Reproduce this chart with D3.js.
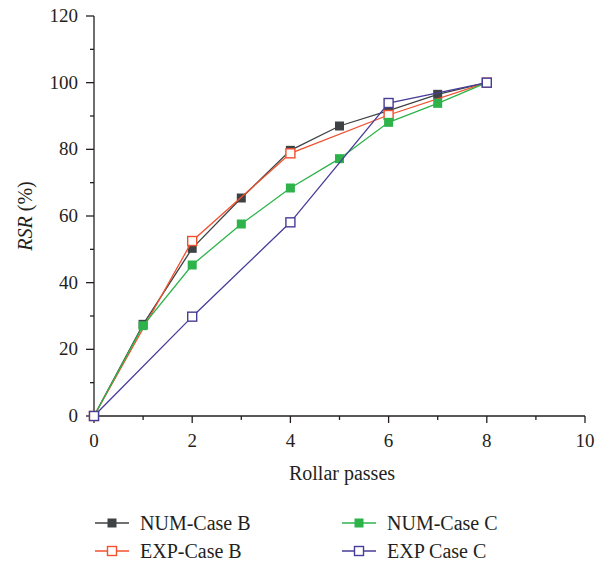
<!DOCTYPE html>
<html>
<head>
<meta charset="utf-8">
<script src="https://cdn.jsdelivr.net/npm/d3@7"></script>
<style>
  body { margin: 0; background: #fff; }
  #chart text { font-family: 'Liberation Serif', 'Times New Roman', Times, 'DejaVu Serif', serif; fill: #231f20; }
</style>
</head>
<body>
<svg id="chart" width="608" height="561" font-family="Liberation Serif, Times New Roman, serif"></svg>
<script>
const passesNum = [0, 1, 2, 3, 4, 5, 6, 7, 8];
const passesExp = [0, 2, 4, 6, 8];
const numCaseB = [0, 27.5, 50.3, 65.4, 79.7, 87, 91.6, 96.5, 100];
const expCaseB = [0, 52.5, 78.8, 90.3, 100];
const numCaseC = [0, 27.1, 45.3, 57.6, 68.4, 77.2, 88.1, 93.8, 100];
const expCaseC = [0, 29.8, 58.1, 93.9, 100];
const xTicks = [0, 2, 4, 6, 8, 10];
const yTicks = [0, 20, 40, 60, 80, 100, 120];

const series = [
  { name: "NUM-Case B", xs: passesNum, ys: numCaseB, color: "#3f4244", filled: true },
  { name: "EXP-Case B", xs: passesExp, ys: expCaseB, color: "#f0512e", filled: false },
  { name: "NUM-Case C", xs: passesNum, ys: numCaseC, color: "#2db34a", filled: true },
  { name: "EXP Case C", xs: passesExp, ys: expCaseC, color: "#463d97", filled: false }
];

const svg = d3.select("#chart");
const x = d3.scaleLinear().domain([0, 10]).range([94, 585]);
const y = d3.scaleLinear().domain([0, 120]).range([416, 16]);
const axisColor = "#231f20";

// minor ticks
const xMinor = d3.range(1, 10, 2);
const yMinor = d3.range(10, 120, 20);

const gx = svg.append("g").attr("transform", `translate(0,${y(0)})`);
gx.append("line").attr("x1", x(0)).attr("x2", x(10)).attr("stroke", axisColor).attr("stroke-width", 1.3);
gx.selectAll(".maj").data(xTicks).join("line")
  .attr("x1", d => x(d)).attr("x2", d => x(d)).attr("y1", 0).attr("y2", 7)
  .attr("stroke", axisColor).attr("stroke-width", 1.3);
gx.selectAll(".min").data(xMinor).join("line")
  .attr("x1", d => x(d)).attr("x2", d => x(d)).attr("y1", 0).attr("y2", 4)
  .attr("stroke", axisColor).attr("stroke-width", 1.3);
gx.selectAll("text").data(xTicks).join("text")
  .attr("x", d => x(d)).attr("y", 31)
  .attr("text-anchor", "middle").attr("font-size", 19)
  .text(d => d);

const gy = svg.append("g").attr("transform", `translate(${x(0)},0)`);
gy.append("line").attr("y1", y(0)).attr("y2", y(120)).attr("stroke", axisColor).attr("stroke-width", 1.3);
gy.selectAll(".maj").data(yTicks).join("line")
  .attr("y1", d => y(d)).attr("y2", d => y(d)).attr("x1", 0).attr("x2", -8)
  .attr("stroke", axisColor).attr("stroke-width", 1.3);
gy.selectAll(".min").data(yMinor).join("line")
  .attr("y1", d => y(d)).attr("y2", d => y(d)).attr("x1", 0).attr("x2", -4)
  .attr("stroke", axisColor).attr("stroke-width", 1.3);
gy.selectAll("text").data(yTicks).join("text")
  .attr("x", -16).attr("y", d => y(d) + 6)
  .attr("text-anchor", "end").attr("font-size", 19)
  .text(d => d);

// axis titles
svg.append("text").attr("x", 342).attr("y", 480)
  .attr("text-anchor", "middle").attr("font-size", 20).text("Rollar passes");
const yl = svg.append("text")
  .attr("transform", `translate(32,${(y(0) + y(120)) / 2}) rotate(-90)`)
  .attr("text-anchor", "middle").attr("font-size", 20);
yl.append("tspan").attr("font-style", "italic").text("RSR");
yl.append("tspan").text(" (%)");

const line = d3.line().x(d => x(d[0])).y(d => y(d[1]));
const box = 9;

series.forEach(s => {
  const pts = s.xs.map((v, k) => [v, s.ys[k]]);
  const g = svg.append("g");
  g.append("path").datum(pts).attr("d", line)
    .attr("fill", "none").attr("stroke", s.color).attr("stroke-width", 1.3);
  g.selectAll("rect").data(pts).join("rect")
    .attr("x", d => x(d[0]) - box / 2).attr("y", d => y(d[1]) - box / 2)
    .attr("width", box).attr("height", box)
    .attr("fill", s.filled ? s.color : "#fff")
    .attr("stroke", s.color).attr("stroke-width", s.filled ? 0 : 1.4);
});

// legend
const legendPos = [[95, 523], [95, 551], [342, 523], [342, 551]];
series.forEach((s, i) => {
  const [lx, ly] = legendPos[i];
  const g = svg.append("g").attr("transform", `translate(${lx},${ly})`);
  g.append("line").attr("x1", 0).attr("x2", 34).attr("stroke", s.color).attr("stroke-width", 1.3);
  g.append("rect").attr("x", 17 - box / 2).attr("y", -box / 2).attr("width", box).attr("height", box)
    .attr("fill", s.filled ? s.color : "#fff")
    .attr("stroke", s.color).attr("stroke-width", s.filled ? 0 : 1.4);
  g.append("text").attr("x", 45).attr("y", 7).attr("font-size", 20).text(s.name);
});
</script>
</body>
</html>
